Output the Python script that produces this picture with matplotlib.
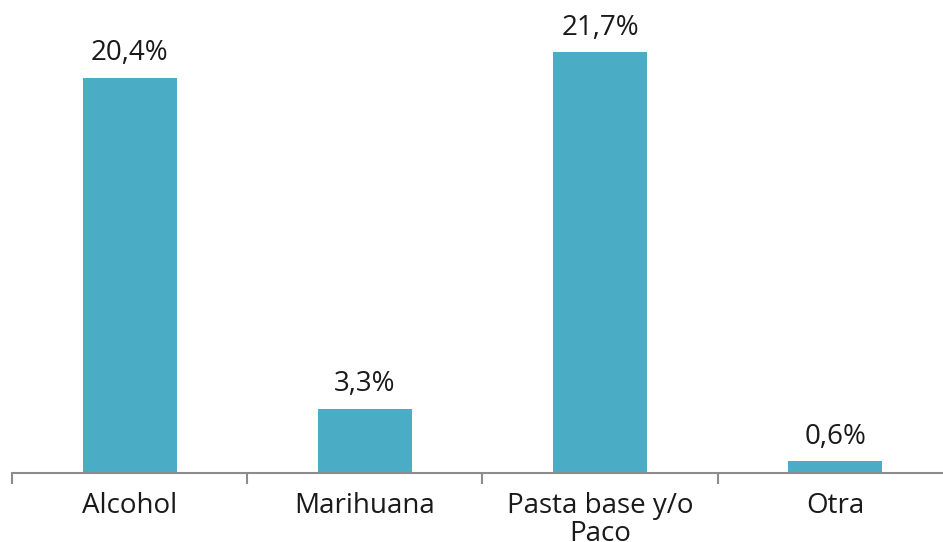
import matplotlib
matplotlib.use("Agg")
import matplotlib.pyplot as plt

categories = ["Alcohol", "Marihuana", "Pasta base y/o\nPaco", "Otra"]
values = [20.4, 3.3, 21.7, 0.6]
labels = ["20,4%", "3,3%", "21,7%", "0,6%"]

plt.rcParams['font.family'] = ['Open Sans', 'DejaVu Sans']

W, H = 943, 542
fig = plt.figure(figsize=(W/100, H/100), dpi=100)
ax = fig.add_axes([12/W, (H-473)/H, 941/W, 473/H])

x = list(range(len(categories)))
ax.bar(x, values, width=0.40, color="#4BACC6", zorder=2)
for xi, v, lab in zip(x, values, labels):
    ax.text(xi, v + 0.55, lab, ha="center", va="bottom", fontsize=20, color="#1a1a1a")

ax.set_xlim(-0.5, len(categories) - 0.5)
ax.set_ylim(0, 24.4)
for s in ["top", "right", "left"]:
    ax.spines[s].set_visible(False)
ax.spines["bottom"].set_color("#8c8c8c")
ax.spines["bottom"].set_linewidth(1.5)
ax.set_yticks([])
ax.set_xticks([i + 0.5 for i in range(-1, len(categories))])
ax.set_xticklabels([])
ax.tick_params(axis="x", length=8, width=1.5, color="#8c8c8c")
ax.set_xticks(x, minor=True)
ax.set_xticklabels(categories, minor=True, fontsize=20, color="#1a1a1a", linespacing=1.0)
ax.tick_params(axis="x", which="minor", length=0, pad=14)

fig.savefig("out.png", dpi=100)
